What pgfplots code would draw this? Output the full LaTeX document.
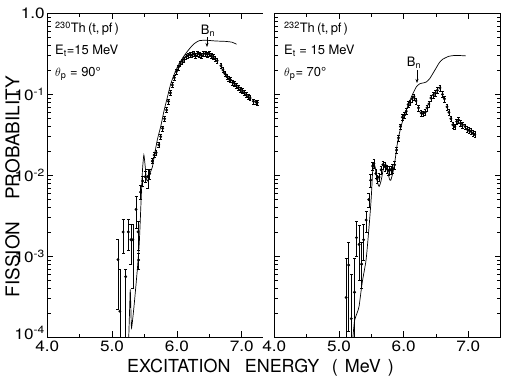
\documentclass[border=0pt]{standalone}
\usepackage{fontspec}
\setmainfont{TeX Gyre Heros}
\newfontfamily\tickfont[FakeStretch=1.15]{TeX Gyre Heros}
\usepackage{pgfplots}
\pgfplotsset{compat=1.18}
\usetikzlibrary{arrows.meta}
\pgfplotsset{
  theory/.style={black, line width=0.7bp, smooth, tension=0.35, no marks},
  ptsexp/.style={only marks, mark=*, mark size=1.25bp, black,
    error bars/y dir=both, error bars/y explicit,
    error bars/error bar style={line width=0.45bp, black},
    error bars/error mark options={rotate=90, mark size=1.5bp, line width=0.45bp}},
  ptsrel/.style={only marks, mark=*, mark size=1.25bp, black,
    error bars/y dir=both, error bars/y fixed relative=#1,
    error bars/error bar style={line width=0.45bp, black},
    error bars/error mark options={rotate=90, mark size=1.3bp, line width=0.45bp}},
}
\begin{document}
\begin{tikzpicture}
\useasboundingbox (-47.3bp,-44.7bp) rectangle (461.7bp,337.3bp);
% ---------------- Left panel: 230Th ----------------
\begin{axis}[
  scale only axis, width=216bp, height=324bp, at={(0bp,0bp)}, anchor=south west,
  ymode=log, ymin=1e-4, ymax=1, xmin=4, xmax=7.333,
  axis x line*=box, axis y line*=left,
  xtick={4,5,6,7}, xticklabels={4.0,5.0,6.0,7.0}, minor xtick={4.5,5.5,6.5},
  ytick={1e-4,1e-3,1e-2,1e-1,1},
  yticklabels={\raisebox{9bp}{10\textsuperscript{-4}},10\textsuperscript{-3},10\textsuperscript{-2},10\textsuperscript{-1},1.0},
  minor ytick={2e-4,3e-4,4e-4,5e-4,6e-4,7e-4,8e-4,9e-4,
               2e-3,3e-3,4e-3,5e-3,6e-3,7e-3,8e-3,9e-3,
               2e-2,3e-2,4e-2,5e-2,6e-2,7e-2,8e-2,9e-2,
               2e-1,3e-1,4e-1,5e-1,6e-1,7e-1,8e-1,9e-1},
  tick align=inside, major tick length=6bp, minor tick length=3.5bp,
  tick style={black, line width=0.6bp},
  axis line style={line width=0.8bp},
  tick label style={font=\fontsize{15}{15}\tickfont},
  yticklabel style={xshift=1bp},
  /pgf/number format/assume math mode=true,
]
\addplot[theory] coordinates {
(5.255,9e-5) (5.27,2.2e-4) (5.28,3.9e-4) (5.29,2.2e-4) (5.30,1.3e-4) (5.34,2.5e-4)
(5.39,7e-4) (5.42,1.5e-3) (5.45,5.5e-3) (5.47,1.2e-2) (5.49,1.78e-2) (5.51,1.3e-2)
(5.53,9e-3) (5.55,8.5e-3) (5.58,1.05e-2) (5.62,1.25e-2) (5.66,1.9e-2) (5.70,2.8e-2)
(5.75,4.0e-2) (5.80,6.2e-2) (5.85,9e-2) (5.90,0.13) (5.95,0.17) (6.00,0.21)
(6.05,0.25) (6.10,0.29) (6.15,0.33) (6.20,0.37) (6.25,0.41) (6.30,0.44) (6.35,0.46)
(6.45,0.465) (6.60,0.455) (6.75,0.45) (6.85,0.44) (6.92,0.415)
};
\addplot[ptsexp] coordinates {
(5.09,9.1e-4) += (0,7.1e-4) -= (0,6.9e-4)
(5.12,2.1e-4) += (0,4.8e-4) -= (0,2.05e-4)
(5.17,2.0e-3) += (0,9e-4) -= (0,9e-4)
(5.21,5.6e-4) += (0,1.4e-4) -= (0,5.5e-4)
(5.25,2.0e-3) += (0,9e-4) -= (0,8e-4)
(5.29,1.6e-3) += (0,9e-4) -= (0,8e-4)
(5.32,1.6e-3) += (0,9e-4) -= (0,1.2e-3)
(5.37,3.8e-3) += (0,1.7e-3) -= (0,1.6e-3)
(5.40,2.0e-3) += (0,7e-4) -= (0,8e-4)
(5.41,9.0e-4) += (0,2e-4) -= (0,2e-4)
(5.44,6.2e-3) += (0,1.3e-3) -= (0,1.2e-3)
(5.47,8.5e-3) += (0,1.2e-3) -= (0,1.2e-3)
(5.51,9.6e-3) += (0,1.5e-3) -= (0,1.5e-3)
(5.55,9.6e-3) += (0,2.4e-3) -= (0,2.6e-3)
(5.58,1.05e-2) += (0,1.5e-3) -= (0,1.5e-3)
};
\addplot[ptsrel=0.07] coordinates {
(5.62,0.0150) (5.65,0.0178) (5.68,0.0190) (5.72,0.0237) (5.75,0.030) (5.78,0.038)
(5.81,0.050) (5.84,0.064) (5.87,0.082) (5.90,0.104) (5.93,0.130) (5.96,0.160)
(5.99,0.190) (6.02,0.215) (6.05,0.240) (6.08,0.255) (6.11,0.270) (6.14,0.290)
(6.17,0.300) (6.20,0.310) (6.23,0.305) (6.26,0.315) (6.29,0.300) (6.32,0.320)
(6.35,0.310) (6.38,0.300) (6.41,0.315) (6.44,0.320) (6.47,0.310) (6.50,0.315)
(6.53,0.300) (6.56,0.290) (6.59,0.275) (6.62,0.260) (6.68,0.225) (6.71,0.200)
(6.74,0.180) (6.77,0.165) (6.80,0.155) (6.83,0.150) (6.86,0.140) (6.89,0.135)
(6.92,0.128) (6.95,0.122) (6.98,0.115) (7.01,0.110) (7.04,0.104) (7.07,0.098)
(7.10,0.093) (7.13,0.090) (7.18,0.082) (7.22,0.080) (7.24,0.079)
};
\end{axis}
% ---------------- Right panel: 232Th ----------------
\begin{axis}[
  scale only axis, width=226.4bp, height=324bp, at={(227bp,0bp)}, anchor=south west,
  ymode=log, ymin=1e-4, ymax=1, xmin=4, xmax=7.5,
  xtick={4,5,6,7}, xticklabels={4.0,5.0,6.0,7.0}, minor xtick={4.5,5.5,6.5},
  ytick={1e-4,1e-3,1e-2,1e-1,1}, yticklabels={},
  minor ytick={2e-4,3e-4,4e-4,5e-4,6e-4,7e-4,8e-4,9e-4,
               2e-3,3e-3,4e-3,5e-3,6e-3,7e-3,8e-3,9e-3,
               2e-2,3e-2,4e-2,5e-2,6e-2,7e-2,8e-2,9e-2,
               2e-1,3e-1,4e-1,5e-1,6e-1,7e-1,8e-1,9e-1},
  tick align=inside, major tick length=6bp, minor tick length=3.5bp,
  tick style={black, line width=0.6bp},
  axis line style={line width=0.8bp},
  tick label style={font=\fontsize{15}{15}\tickfont},
  /pgf/number format/assume math mode=true,
]
\addplot[theory] coordinates {
(5.21,9e-5) (5.24,1.6e-4) (5.28,2.0e-4) (5.31,2.4e-4) (5.36,4.8e-4) (5.42,9.2e-4)
(5.47,2.6e-3) (5.50,5.5e-3) (5.52,1.1e-2) (5.54,1.4e-2) (5.56,1.25e-2) (5.59,8.5e-3)
(5.62,7.3e-3) (5.65,8.5e-3) (5.69,1.25e-2) (5.72,1.4e-2) (5.75,1.15e-2) (5.78,9.0e-3)
(5.80,8.7e-3) (5.83,1.05e-2) (5.85,1.26e-2) (5.87,1.6e-2) (5.90,2.4e-2) (5.93,3.2e-2)
(5.96,4.0e-2) (6.00,5.2e-2) (6.05,6.7e-2) (6.10,8.5e-2) (6.15,0.105) (6.20,0.125)
(6.25,0.135) (6.30,0.138) (6.35,0.142) (6.40,0.155) (6.45,0.180) (6.50,0.210)
(6.55,0.245) (6.60,0.270) (6.70,0.295) (6.80,0.302) (6.90,0.300) (6.96,0.298)
};
\addplot[ptsexp] coordinates {
(5.11,3.1e-4) += (0,6.4e-4) -= (0,3.05e-4)
(5.15,7.8e-4) += (0,7.2e-4) -= (0,6.6e-4)
(5.19,1.7e-4) += (0,4.3e-4) -= (0,1.65e-4)
(5.24,3.6e-4) += (0,5.9e-4) -= (0,3.55e-4)
(5.27,1.7e-3) += (0,1.0e-3) -= (0,7e-4)
(5.31,1.4e-3) += (0,1.0e-3) -= (0,9e-4)
(5.35,8.0e-4) += (0,7e-4) -= (0,4e-4)
(5.38,1.6e-3) += (0,9e-4) -= (0,7e-4)
(5.42,2.8e-3) += (0,8e-4) -= (0,8e-4)
(5.46,5.0e-3) += (0,1e-3) -= (0,1e-3)
(5.49,8.7e-3) += (0,1.5e-3) -= (0,1.5e-3)
};
\addplot[ptsrel=0.12] coordinates {
(5.52,0.0130) (5.54,0.0140) (5.57,0.0105) (5.59,0.0090) (5.62,0.0095) (5.65,0.0117)
(5.68,0.0135) (5.71,0.0128) (5.74,0.0120) (5.77,0.0115) (5.80,0.0117) (5.83,0.0122)
(5.86,0.0135)
};
\addplot[ptsrel=0.08] coordinates {
(5.89,0.0205) (5.92,0.029) (5.95,0.040) (5.98,0.052) (6.01,0.055) (6.04,0.062)
(6.07,0.075) (6.10,0.079) (6.13,0.088) (6.16,0.093) (6.19,0.083) (6.23,0.068)
(6.27,0.059) (6.30,0.058) (6.33,0.060) (6.36,0.068) (6.39,0.076) (6.42,0.090)
(6.46,0.098) (6.49,0.104) (6.52,0.112) (6.56,0.120) (6.60,0.100) (6.63,0.088)
(6.67,0.070) (6.70,0.060) (6.73,0.050) (6.76,0.042) (6.79,0.040) (6.82,0.046)
(6.85,0.048) (6.88,0.044) (6.91,0.042) (6.95,0.040) (6.98,0.037) (7.01,0.036)
(7.04,0.035) (7.07,0.033) (7.10,0.032)
};
\end{axis}
% ---------------- Annotations (pixel frame of the reference) ----------------
\begin{scope}[x=1bp, y=-1bp, shift={(-47.3bp,337.3bp)}]
\tikzset{ann/.style={anchor=base west, inner sep=0pt, font=\fontsize{13}{13}\selectfont}}
\node[ann] at (55,33) {\textsuperscript{230}Th\,(t,\,pf\,)};
\node[ann] at (55,55) {E\textsubscript{t}=15 MeV};
\node[ann] at (55,77) {$\theta$\textsubscript{p} = 90°};
\node[ann] at (284,33) {\textsuperscript{232}Th\,(t,\,pf\,)};
\node[ann] at (284,55) {E\textsubscript{t} = 15 MeV};
\node[ann] at (284,77) {$\theta$\textsubscript{p}= 70°};
\node[ann, anchor=base] at (208,35) {B\textsubscript{n}};
\draw[line width=0.6bp, -{Stealth[length=4bp,width=3bp]}] (207,37) -- (207,47);
\node[ann, anchor=base] at (414,67) {B\textsubscript{n}};
\draw[line width=0.6bp, -{Stealth[length=4bp,width=3bp]}] (417,70) -- (417,83);
\node[anchor=base west, inner sep=0pt, font=\fontsize{18}{18}\selectfont] at (127,373)
  {EXCITATION\hspace{0.8em}ENERGY\hspace{0.7em}(\hspace{0.4em}MeV\hspace{0.4em})};
\node[rotate=90, anchor=center, inner sep=0pt, font=\fontsize{19}{19}\selectfont] at (12.5,186.5)
  {FISSION\hspace{1.15em}PROBABILITY};
\end{scope}
\end{tikzpicture}
\end{document}
